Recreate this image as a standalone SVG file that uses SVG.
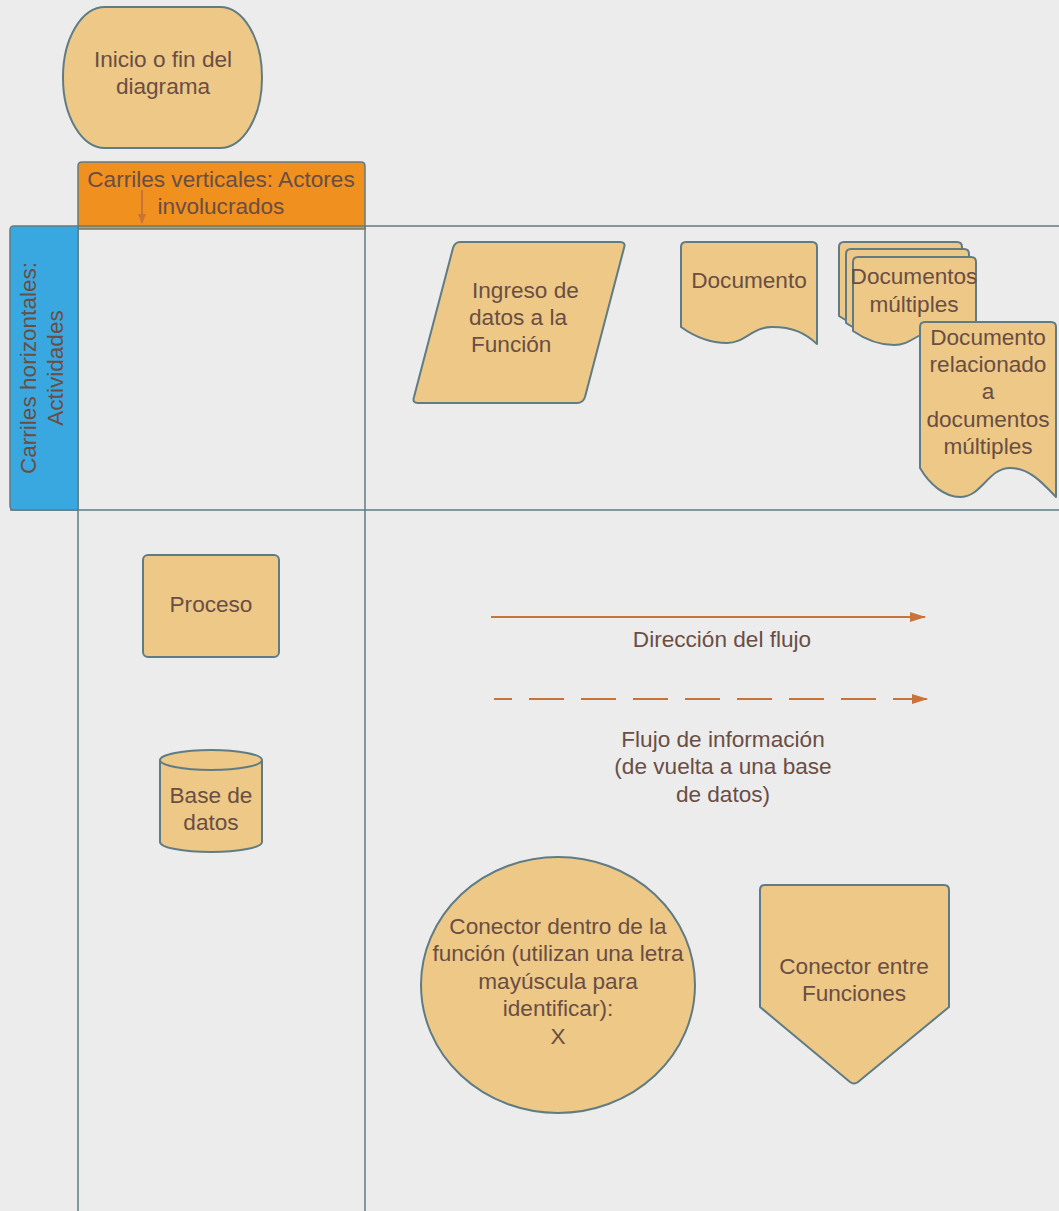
<svg xmlns="http://www.w3.org/2000/svg" width="1059" height="1211" viewBox="0 0 1059 1211">
<style>
.shape{fill:#edc886;stroke:#5f7c84;stroke-width:2;stroke-linejoin:round}
.lane{fill:none;stroke:#5f7c84;stroke-width:1.5}
.t{font-family:"Liberation Sans",Arial,sans-serif;font-size:22.6px;fill:#6a4e44;text-anchor:middle}
.flow{stroke:#c8733a;stroke-width:2;fill:none}
</style>
<defs>
<marker id="ah" markerWidth="10" markerHeight="8" refX="9" refY="4" orient="auto" markerUnits="userSpaceOnUse" viewBox="0 0 10 8">
<path d="M0,0 L10,4 L0,8 Z" fill="#c8733a"/>
</marker>
<marker id="ahL" markerWidth="16" markerHeight="10" refX="15" refY="5" orient="auto" markerUnits="userSpaceOnUse" viewBox="0 0 16 10">
<path d="M0,0 L16,5 L0,10 Z" fill="#c8733a"/>
</marker>
</defs>
<rect width="1059" height="1211" fill="#ececec"/>

<g id="lanes">
<line class="lane" x1="78" y1="226" x2="1059" y2="226"/>
<line class="lane" x1="10" y1="510" x2="1059" y2="510"/>
<line class="lane" x1="78" y1="226" x2="78" y2="1211"/>
<line class="lane" x1="365" y1="226" x2="365" y2="1211"/>
</g>

<g id="header-vertical">
<path d="M82,162 H361 Q365,162 365,166 V229 H78 V166 Q78,162 82,162 Z" fill="#f0901f" stroke="#5f7c84" stroke-width="1.5"/>
<line x1="78" y1="226" x2="365" y2="226" stroke="#5f7c84" stroke-width="1.5"/>
<text class="t" x="221" y="187">Carriles verticales: Actores</text>
<text class="t" x="221" y="214">involucrados</text>
</g>

<g id="header-horizontal">
<path d="M78,226 V510 H14 Q10,510 10,506 V230 Q10,226 14,226 Z" fill="#3aa8e0" stroke="#5f7c84" stroke-width="1.5"/>
<text class="t" transform="translate(36,368) rotate(-90)">Carriles horizontales:</text>
<text class="t" transform="translate(63,368) rotate(-90)">Actividades</text>
</g>

<g id="connectors">
<line class="flow" x1="142" y1="190" x2="142" y2="223" stroke-width="1.5" marker-end="url(#ah)"/>
<line class="flow" x1="491" y1="617" x2="925" y2="617" marker-end="url(#ahL)"/>
<line class="flow" x1="494" y1="699" x2="927" y2="699" stroke-dasharray="35 17" stroke-dashoffset="17" marker-end="url(#ahL)"/>
</g>

<g id="terminator">
<rect class="shape" x="63" y="7" width="199" height="141" rx="42" ry="70"/>
<text class="t" x="163" y="67">Inicio o fin del</text>
<text class="t" x="163" y="94">diagrama</text>
</g>

<g id="input">
<path class="shape" d="M460,242 H620 Q626,242 624,248 L585,397 Q583,403 577,403 H418 Q412,403 414,397 L453,248 Q455,242 460,242 Z"/>
<text class="t" x="472" y="298" style="text-anchor:start">Ingreso de</text>
<text class="t" x="469" y="325" style="text-anchor:start">datos a la</text>
<text class="t" x="471" y="352" style="text-anchor:start">Función</text>
</g>

<g id="document">
<path class="shape" d="M686,242 H812 Q817,242 817,247 V344 C805,333 793,327 772,327 C752,327 745,343 727,343 C710,343 695,337 681,327 V247 Q681,242 686,242 Z"/>
<text class="t" x="749" y="288">Documento</text>
</g>

<g id="multi-documents">
<path class="shape" d="M844,242 H957 Q962,242 962,247 V330 C952,320 942,316 922,316 C904,316 898,330 880,330 C865,330 852,325 839,316 V247 Q839,242 844,242 Z"/>
<path class="shape" d="M851,249 H964 Q969,249 969,254 V337 C959,327 949,323 929,323 C911,323 905,337 887,337 C872,337 859,332 846,323 V254 Q846,249 851,249 Z"/>
<path class="shape" d="M858,257 H971 Q976,257 976,262 V345 C966,335 956,331 936,331 C918,331 912,345 894,345 C879,345 866,340 853,331 V262 Q853,257 858,257 Z"/>
<text class="t" x="914" y="284">Documentos</text>
<text class="t" x="914" y="312">múltiples</text>
</g>

<g id="related-document">
<path class="shape" d="M925,322 H1051 Q1056,322 1056,327 V497 C1040,480 1028,468 1010,468 C988,468 982,497 960,497 C945,497 930,485 920,468 V327 Q920,322 925,322 Z"/>
<text class="t" x="988" y="345">Documento</text>
<text class="t" x="988" y="372">relacionado</text>
<text class="t" x="988" y="399">a</text>
<text class="t" x="988" y="427">documentos</text>
<text class="t" x="988" y="454">múltiples</text>
</g>

<g id="process">
<rect class="shape" x="143" y="555" width="136" height="102" rx="5"/>
<text class="t" x="211" y="612">Proceso</text>
</g>

<g id="database">
<path class="shape" d="M160,760 V842 A51,10 0 0 0 262,842 V760 A51,10 0 0 0 160,760 Z"/>
<path class="shape" d="M160,760 A51,10 0 0 0 262,760" fill="none"/>
<text class="t" x="211" y="803">Base de</text>
<text class="t" x="211" y="830">datos</text>
</g>

<g id="labels">
<text class="t" x="722" y="647">Dirección del flujo</text>
<text class="t" x="723" y="747">Flujo de información</text>
<text class="t" x="723" y="774">(de vuelta a una base</text>
<text class="t" x="723" y="802">de datos)</text>
</g>

<g id="connector-inner">
<ellipse class="shape" cx="558" cy="985" rx="137" ry="128"/>
<text class="t" x="558" y="934">Conector dentro de la</text>
<text class="t" x="558" y="961">función (utilizan una letra</text>
<text class="t" x="558" y="989">mayúscula para</text>
<text class="t" x="558" y="1016">identificar):</text>
<text class="t" x="558" y="1044">X</text>
</g>

<g id="connector-offpage">
<path class="shape" d="M765,885 H944 Q949,885 949,890 V1007 L858,1082 Q854,1085 850,1082 L760,1007 V890 Q760,885 765,885 Z"/>
<text class="t" x="854" y="974">Conector entre</text>
<text class="t" x="854" y="1001">Funciones</text>
</g>
</svg>
